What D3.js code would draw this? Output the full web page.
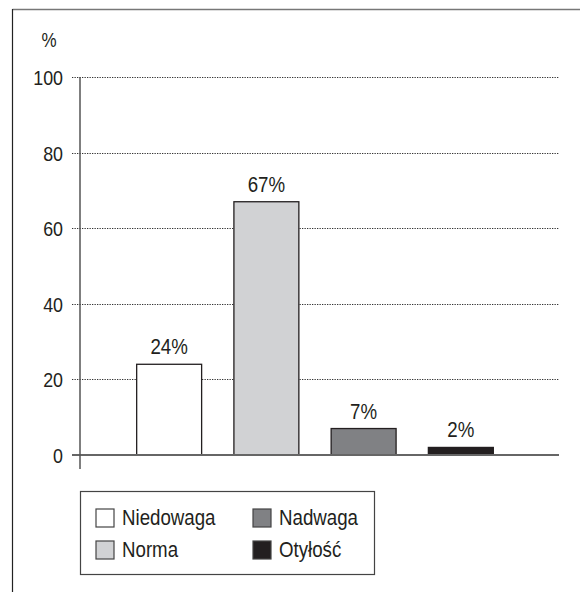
<!DOCTYPE html>
<html>
<head>
<meta charset="utf-8">
<script src="https://cdn.jsdelivr.net/npm/d3@7"></script>
<style>
  html, body { margin: 0; padding: 0; background: #fff; }
  svg { display: block; }
  text { font-family: "Liberation Sans Narrow", "Arial Narrow", "Liberation Sans", Arial, sans-serif; fill: #231f20; }
</style>
</head>
<body>
<svg id="chart" width="580" height="592"></svg>
<script>
// Body-weight categories and their shares (%)
const categories = ["Niedowaga", "Norma", "Nadwaga", "Otyłość"];
const shares = [24, 67, 7, 2];
const fills = ["#ffffff", "#d1d2d4", "#808184", "#231f20"];
const yTicks = [0, 20, 40, 60, 80, 100];

// Condensed lettering: text is squeezed horizontally about its anchor point
const SQUEEZE = 0.85;
function placeText(sel, px, py) {
  sel.attr("x", 0).attr("y", 0)
    .attr("transform", (d, i) => `translate(${typeof px === "function" ? px(d, i) : px},${typeof py === "function" ? py(d, i) : py}) scale(${SQUEEZE},1)`);
  return sel;
}

const svg = d3.select("#chart");

// Frame: top and left rules only
svg.append("line").attr("x1", 12.5).attr("x2", 580).attr("y1", 9.5).attr("y2", 9.5)
  .attr("stroke", "#777").attr("stroke-width", 1.5);
svg.append("line").attr("x1", 12.5).attr("x2", 12.5).attr("y1", 9).attr("y2", 592)
  .attr("stroke", "#222").attr("stroke-width", 1.2);

const y = d3.scaleLinear().domain([0, 100]).range([455, 77]);
const x = d3.scaleBand().domain(categories).range([104, 526])
  .paddingInner(0.332).paddingOuter(0.336);

const gridLeft = 72, gridRight = 559;

// Dotted gridlines
svg.append("g").selectAll("line")
  .data(yTicks.filter(d => d > 0))
  .join("line")
  .attr("x1", gridLeft).attr("x2", gridRight)
  .attr("y1", d => Math.round(y(d)) + 0.5).attr("y2", d => Math.round(y(d)) + 0.5)
  .attr("stroke", "#333").attr("stroke-width", 1).attr("stroke-dasharray", "1.3,1.2");

// Y axis labels
const yAxis = d3.axisLeft(y).tickValues(yTicks).tickSize(0).tickPadding(0);
const ga = svg.append("g").attr("transform", "translate(63,0)").call(yAxis);
ga.select(".domain").remove();
ga.selectAll("text")
  .attr("x", 0)
  .attr("font-size", 21)
  .attr("dy", "0.36em")
  .attr("transform", `scale(${SQUEEZE},1)`)
  .style("font-family", "'Liberation Sans Narrow', 'Arial Narrow', 'Liberation Sans', Arial, sans-serif")
  .attr("fill", "#231f20");

placeText(svg.append("text").attr("text-anchor", "middle").attr("font-size", 20).text("%"), 49, 47);

// Bars
svg.append("g").selectAll("rect")
  .data(categories)
  .join("rect")
  .attr("x", d => x(d))
  .attr("width", x.bandwidth())
  .attr("y", (d, i) => y(shares[i]))
  .attr("height", (d, i) => y(0) - y(shares[i]))
  .attr("fill", (d, i) => fills[i])
  .attr("stroke", "#231f20").attr("stroke-width", 1.3);

// Value labels
placeText(
  svg.append("g").selectAll("text")
    .data(categories)
    .join("text")
    .attr("text-anchor", "middle")
    .attr("font-size", 22)
    .text((d, i) => shares[i] + "%"),
  d => x(d) + x.bandwidth() / 2,
  (d, i) => y(shares[i]) - 10
);

// Axis lines
svg.append("line").attr("x1", gridLeft).attr("x2", gridRight).attr("y1", y(0)).attr("y2", y(0))
  .attr("stroke", "#666").attr("stroke-width", 2);
svg.append("line").attr("x1", 80).attr("x2", 80).attr("y1", y(100)).attr("y2", 469)
  .attr("stroke", "#555").attr("stroke-width", 1.5);

// Legend
const legend = svg.append("g");
legend.append("rect").attr("x", 80.5).attr("y", 491.5).attr("width", 294).attr("height", 83)
  .attr("fill", "#fff").attr("stroke", "#444").attr("stroke-width", 1.2);
const legendPos = [[96, 509], [96, 541], [253, 509], [253, 541]];
const items = legend.selectAll("g.item")
  .data([0, 1, 2, 3])
  .join("g").attr("class", "item")
  .attr("transform", (d, i) => `translate(${legendPos[i][0]},${legendPos[i][1]})`);
items.append("rect").attr("width", 18).attr("height", 18)
  .attr("fill", d => fills[d]).attr("stroke", "#444").attr("stroke-width", 1.2);
placeText(
  items.append("text").attr("font-size", 22).text(d => categories[d]),
  26, 16
);
</script>
</body>
</html>
